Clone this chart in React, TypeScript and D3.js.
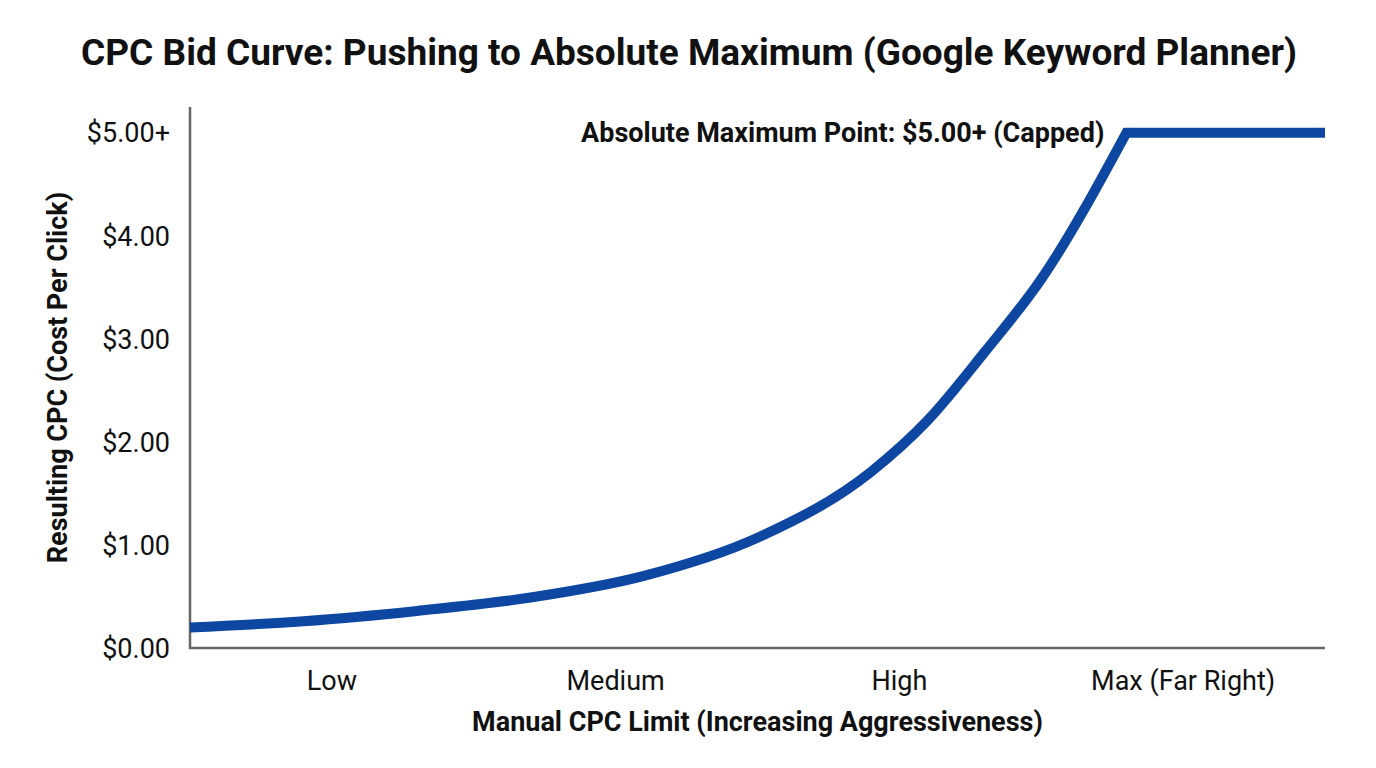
import React, { useEffect } from "react";
import * as d3 from "d3";

// Manual CPC limit on a 0-100 aggressiveness scale
const bidLevels = [0, 10, 20, 30, 40, 50, 60, 65, 70, 75, 82.5];
const resultingCpc = [0.2, 0.26, 0.36, 0.49, 0.7, 1.07, 1.71, 2.21, 2.87, 3.58, 5.0];
// flat segment after the cap
const capBids = [82.5, 100];
const capValue = 5.0;

const categories = ["Low", "Medium", "High", "Max (Far Right)"];
const categoryPositions = [12.5, 37.5, 62.5, 87.5];
const yTicks = [0, 1, 2, 3, 4, 5];
const yTickLabels = ["$0.00", "$1.00", "$2.00", "$3.00", "$4.00", "$5.00+"];

const W = 1376;
const H = 768;
const margin = { top: 107, right: 51, bottom: 120, left: 190 };
const FONT = "Roboto, 'Noto Sans', sans-serif";

export default function App() {
    useEffect(() => {
        document.body.style.margin = "0";
    }, []);

    const x = d3.scaleLinear().domain([0, 100]).range([margin.left, W - margin.right]);
    const y = d3.scaleLinear().domain([0, 5.25]).range([H - margin.bottom, margin.top]);

    const rising = bidLevels.map((b, i) => ({ b, v: resultingCpc[i] }));
    const risingPath = d3.line<{ b: number; v: number }>()
        .curve(d3.curveMonotoneX)
        .x(d => x(d.b))
        .y(d => y(d.v))(rising);
    // sharp corner at the cap, then straight across
    const capPath = capBids.slice(1).map(b => `L${x(b)},${y(capValue)}`).join("");

    const [x0, x1] = x.range();
    const [y0, y1] = y.range();

    return (
        <svg width={W} height={H} style={{ display: "block", background: "#fff" }} fontFamily={FONT}>
            <text x={689} y={65} textAnchor="middle" fontSize={37} fontWeight="bold" fill="#111">
                CPC Bid Curve: Pushing to Absolute Maximum (Google Keyword Planner)
            </text>

            {/* axes */}
            <line x1={x0} x2={x0} y1={y1} y2={y0 + 1} stroke="#666" strokeWidth={2.5} />
            <line x1={x0 - 1} x2={x1} y1={y0} y2={y0} stroke="#666" strokeWidth={2.5} />

            {yTicks.map((t, i) => (
                <text key={t} x={x0 - 20} y={y(t)} dy="0.36em" textAnchor="end" fontSize={27} fill="#111">
                    {yTickLabels[i]}
                </text>
            ))}

            {categories.map((c, i) => (
                <text key={c} x={x(categoryPositions[i])} y={y0 + 42} textAnchor="middle" fontSize={27} fill="#111">
                    {c}
                </text>
            ))}

            <text x={(x0 + x1) / 2} y={y0 + 83} textAnchor="middle" fontSize={27} fontWeight="bold" fill="#111">
                Manual CPC Limit (Increasing Aggressiveness)
            </text>
            <text
                transform={`translate(67,${(y0 + y1) / 2}) rotate(-90)`}
                textAnchor="middle"
                fontSize={27}
                fontWeight="bold"
                fill="#111"
            >
                Resulting CPC (Cost Per Click)
            </text>

            <path
                d={`${risingPath}${capPath}`}
                fill="none"
                stroke="#0D47A1"
                strokeWidth={10}
                strokeLinejoin="miter"
            />

            <text
                x={x(capBids[0]) - 22}
                y={y(capValue)}
                dy="0.36em"
                textAnchor="end"
                fontSize={27}
                fontWeight="bold"
                fill="#111"
            >
                Absolute Maximum Point: $5.00+ (Capped)
            </text>
        </svg>
    );
}
